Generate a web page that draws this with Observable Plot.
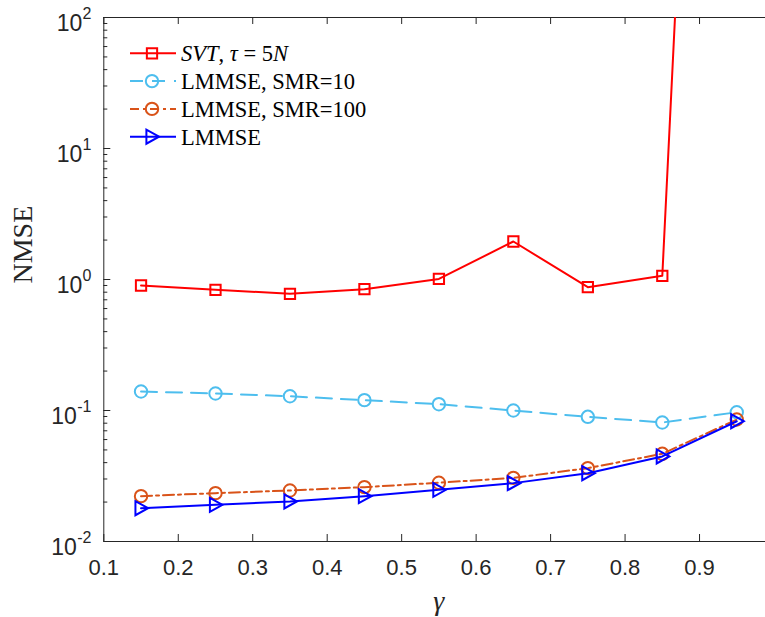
<!DOCTYPE html>
<html><head><meta charset="utf-8">
<script src="https://cdn.jsdelivr.net/npm/d3@7"></script>
<script src="https://cdn.jsdelivr.net/npm/@observablehq/plot@0.6"></script>
<style>
body{margin:0;background:#fff}
#wrap{position:relative;width:765px;height:617px;overflow:hidden}
</style>
</head><body><div id="wrap"></div>
<script>
// ---- data ----
const gamma = [0.15, 0.25, 0.35, 0.45, 0.55, 0.65, 0.75, 0.85, 0.95];
const svt    = [0.90, 0.834, 0.778, 0.843, 1.01, 1.95, 0.873, 1.067, 4e11];
const smr10  = [0.1397, 0.1349, 0.1285, 0.1199, 0.1117, 0.100, 0.0895, 0.081, 0.097];
const smr100 = [0.0222, 0.0234, 0.0245, 0.0260, 0.0281, 0.0306, 0.0363, 0.0467, 0.0854];
const lmmse  = [0.01796, 0.01905, 0.0202, 0.0222, 0.0248, 0.0279, 0.0332, 0.0446, 0.0828];
const seriesNames = ["SVT, τ = 5N", "LMMSE, SMR=10", "LMMSE, SMR=100", "LMMSE"];
const xTicks = [0.1, 0.2, 0.3, 0.4, 0.5, 0.6, 0.7, 0.8, 0.9, 1.0];
const xTickLabels = ["0.1", "0.2", "0.3", "0.4", "0.5", "0.6", "0.7", "0.8", "0.9"];
const yMajor = [0.01, 0.1, 1, 10, 100];
const yExponents = ["-2", "-1", "0", "1", "2"];
const yMinorMult = [2, 3, 4, 5, 6, 7, 8, 9];

// ---- styles ----
const axisColor = "#262626";
const sans = "'Liberation Sans', Arial, Helvetica, sans-serif";
const serif = "'Liberation Serif', 'Times New Roman', serif";
const colors = ["#FF0000", "#4DBEEE", "#D95319", "#0000FF"];
const dashes = [null, "16,9", "11,4,3,4", null];

const triRight = {
  draw(ctx, size) {
    const r = Math.sqrt(size / Math.PI);
    ctx.moveTo(r, 0);
    ctx.lineTo(-0.8 * r, -r);
    ctx.lineTo(-0.8 * r, r);
    ctx.closePath();
  }
};
const symbols = ["square", "circle", "circle", triRight];
const radii = [5.8, 6.2, 6.2, 7];

const values = [svt, smr10, smr100, lmmse];
const rows = values.map(vals => gamma.map((g, i) => ({g, v: vals[i]})));

const yMinor = yMajor.slice(0, -1).flatMap(d => yMinorMult.map(m => d * m));
const xLabeled = xTickLabels.map((s, i) => ({x: xTicks[i], s}));

const L = 103.3, R = 773.5, T = 17, B = 541, W = 765, H = 617;
const fw = W - L, fh = B - T;

const marks = [];
// box lines
marks.push(Plot.ruleY([0.01, 100], {y: d => d, stroke: axisColor, strokeWidth: 1}));
marks.push(Plot.ruleX([0.1], {x: d => d, stroke: axisColor, strokeWidth: 1}));
// ticks (inward)
marks.push(Plot.tickX(xTicks, {x: d => d, insetTop: fh - 7, stroke: axisColor}));
marks.push(Plot.tickX(xTicks, {x: d => d, insetBottom: fh - 7, stroke: axisColor}));
marks.push(Plot.tickY(yMajor, {y: d => d, insetRight: fw - 7, stroke: axisColor}));
marks.push(Plot.tickY(yMinor, {y: d => d, insetRight: fw - 4, stroke: axisColor}));

// series
rows.forEach((data, k) => {
  marks.push(Plot.line(data, {
    x: "g", y: "v", stroke: colors[k], strokeWidth: 2,
    strokeDasharray: dashes[k] || undefined, clip: true
  }));
  marks.push(Plot.dot(data, {
    x: "g", y: "v", symbol: () => symbols[k], r: radii[k], fill: "none",
    stroke: colors[k], strokeWidth: 2, clip: true
  }));
});

// x tick labels
marks.push(Plot.text(xLabeled, {
  x: "x", text: "s", frameAnchor: "bottom",
  dy: 26, lineAnchor: "middle", fontSize: 22, fontFamily: sans, fill: axisColor
}));
// y tick labels: base "10" and exponent
const pos = yMajor.map((d, i) => ({d, e: yExponents[i]}));
marks.push(Plot.text(pos.filter(p => !p.e.startsWith("-")), {
  y: "d", text: () => "10", frameAnchor: "left", textAnchor: "end",
  dx: -21.5, dy: 6, lineAnchor: "middle", fontSize: 23, fontFamily: sans, fill: axisColor
}));
marks.push(Plot.text(pos.filter(p => p.e.startsWith("-")), {
  y: "d", text: () => "10", frameAnchor: "left", textAnchor: "end",
  dx: -27, dy: 6, lineAnchor: "middle", fontSize: 23, fontFamily: sans, fill: axisColor
}));
marks.push(Plot.text(pos, {
  y: "d", text: "e", frameAnchor: "left", textAnchor: "end",
  dx: -12.3, dy: -4, lineAnchor: "middle", fontSize: 16, fontFamily: sans, fill: axisColor
}));
// axis labels
marks.push(Plot.text(["NMSE"], {
  text: d => d, frameAnchor: "left", rotate: -90, dx: -81, dy: 4,
  lineAnchor: "middle", fontSize: 28, fontFamily: serif, fill: axisColor
}));
marks.push(Plot.text(["γ"], {
  text: d => d, frameAnchor: "bottom", dx: 4, dy: 60,
  lineAnchor: "middle", fontSize: 28, fontFamily: serif, fontStyle: "italic", fill: axisColor
}));

const chart = Plot.plot({
  width: W, height: H,
  marginLeft: L, marginRight: 0, marginTop: T, marginBottom: H - B,
  x: {domain: [0.1, 1], range: [L, R], axis: null},
  y: {type: "log", domain: [0.01, 100], range: [B, T], axis: null},
  style: {background: "#fff", overflow: "visible"},
  marks
});
const wrap = document.getElementById("wrap");
wrap.appendChild(chart);

// ---- legend (overlay) ----
const leg = d3.select(wrap).append("svg")
  .attr("width", W).attr("height", H)
  .style("position", "absolute").style("left", "0px").style("top", "0px");
const symGen = (k) => {
  const s = symbols[k];
  const type = s === "square" ? d3.symbolSquare : s === "circle" ? d3.symbolCircle : s;
  return d3.symbol(type, radii[k] * radii[k] * Math.PI)();
};
seriesNames.forEach((name, k) => {
  const y = 53.3 + k * 27.8;
  const g = leg.append("g");
  g.append("line").attr("x1", 130).attr("x2", 176).attr("y1", y).attr("y2", y)
    .attr("stroke", colors[k]).attr("stroke-width", 2)
    .attr("stroke-dasharray", k === 1 ? "13,9" : k === 2 ? "9,4,3,4" : null);
  g.append("path").attr("d", symGen(k)).attr("transform", `translate(152,${y})`)
    .attr("fill", "none").attr("stroke", colors[k]).attr("stroke-width", 2);
  const t = g.append("text").attr("x", 181).attr("y", y).attr("dy", "0.35em")
    .attr("font-family", serif).attr("font-size", 22.5).attr("fill", "#000");
  if (k === 0) {
    t.append("tspan").attr("font-style", "italic").text("SVT");
    t.append("tspan").text(", ");
    t.append("tspan").attr("font-style", "italic").text("τ");
    t.append("tspan").text(" = 5");
    t.append("tspan").attr("font-style", "italic").text("N");
  } else {
    t.text(name);
  }
});
</script>
</body></html>
